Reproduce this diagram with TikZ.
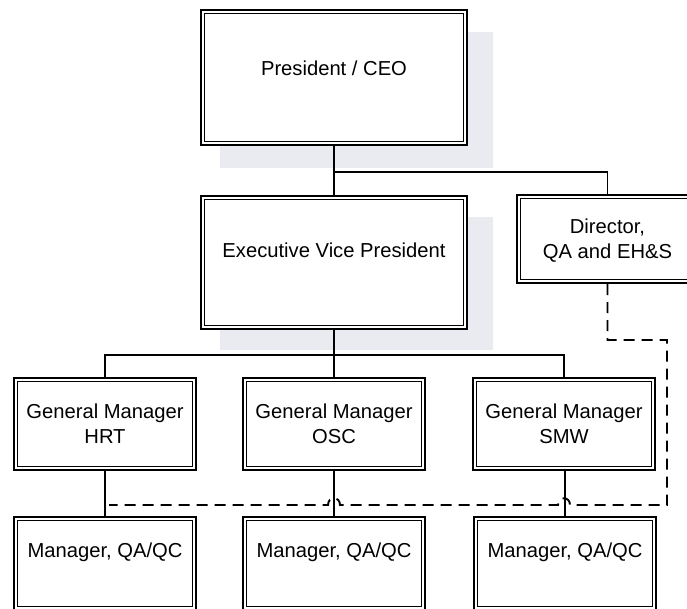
\documentclass[tikz,border=0pt]{standalone}
\usepackage{fontspec}
\setmainfont{Liberation Sans}
\definecolor{shadowgray}{RGB}{233,235,240}
\newcommand\twolines[2]{\begin{tabular}[t]{@{}c@{}}#1\\#2\end{tabular}}
\begin{document}
\begin{tikzpicture}[x=1pt,y=-1pt,
  box/.style={draw=black, line width=2pt, fill=white, inner sep=0pt,
    minimum width=182pt, minimum height=92pt,
    path picture={\draw[line width=1.2pt]
      ([shift={(3.6pt,3.6pt)}]path picture bounding box.south west) rectangle
      ([shift={(-3.6pt,-3.6pt)}]path picture bounding box.north east);}},
  bigbox/.style={box, minimum width=266pt, minimum height=135pt},
  lbl/.style={anchor=base, inner sep=0pt, font=\fontsize{20.2}{25}\selectfont},
  link/.style={draw=black, line width=1.6pt},
  dotted link/.style={draw=black, line width=1.9pt, dash pattern=on 11pt off 7pt}]
  \useasboundingbox (0,0) rectangle (687,608);
  \clip (0,0) rectangle (687,608);

  % soft shadows behind the two executive boxes
  \fill[shadowgray] (220,32) rectangle (493,168);
  \fill[shadowgray] (220,217) rectangle (493,350);

  % boxes
  \node[bigbox] (ceo) at (334,77.5) {};
  \node[bigbox, minimum height=133pt] (evp) at (334,262.5) {};
  \node[box, minimum height=88pt] (dir) at (607.5,239) {};
  \node[box] (gm1) at (105,424) {};
  \node[box] (gm2) at (334,424) {};
  \node[box] (gm3) at (564,424) {};
  \node[box, minimum height=93pt] (mg1) at (105,563.5) {};
  \node[box, minimum height=93pt] (mg2) at (334,563.5) {};
  \node[box, minimum height=93pt] (mg3) at (565,563.5) {};

  % labels
  \node[lbl] (ceo-t) at (334,75) {President / CEO};
  \node[lbl] (evp-t) at (334,257) {Executive Vice President};
  \node[lbl] (dir-t) at (607.5,233) {\twolines{Director,}{QA and EH\&S}};
  \node[lbl] (gm1-t) at (105,418) {\twolines{General Manager}{HRT}};
  \node[lbl] (gm2-t) at (334,418) {\twolines{General Manager}{OSC}};
  \node[lbl] (gm3-t) at (564,418) {\twolines{General Manager}{SMW}};
  \node[lbl] (mg1-t) at (105,557) {Manager, QA/QC};
  \node[lbl] (mg2-t) at (334,557) {Manager, QA/QC};
  \node[lbl] (mg3-t) at (565,557) {Manager, QA/QC};

  % reporting lines
  \coordinate (jA) at (334,172);
  \coordinate (jB) at (334,355);
  \draw[link] (ceo.south) -- (evp.north);
  \draw[link] (jA) -| (dir.north);
  \draw[link] (evp.south) -- (gm2.north);
  \draw[link] (gm1.north) |- (jB) -| (gm3.north);
  \draw[link] (gm1.south) -- (mg1.north);
  \draw[link] (gm2.south) -- (mg2.north);
  \draw[link] (gm3.south) -| (mg3.north);

  % dotted-line reporting from the Director to the QA/QC managers
  \coordinate (d1) at (667,340);
  \coordinate (d2) at (667,505);
  \coordinate (d3) at (109,505);
  \draw[dotted link] (dir.south) |- (d1) -- (d2)
    -- (570,505) .. controls (570,496) and (558,496) .. (558,505)
    -- (340,505) .. controls (340,496) and (328,496) .. (328,505)
    -- (d3);
\end{tikzpicture}
\end{document}
